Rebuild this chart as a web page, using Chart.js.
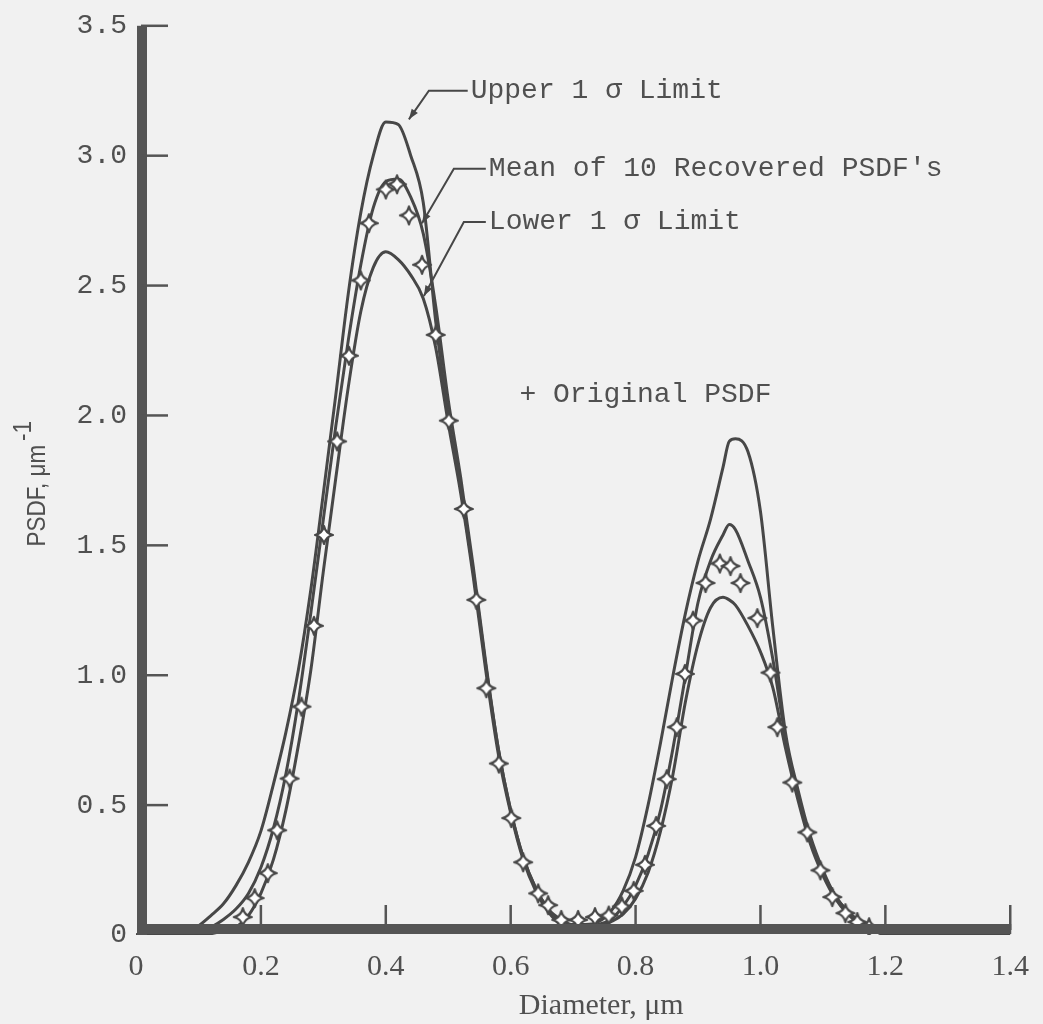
<!DOCTYPE html>
<html lang="en">
<head>
  <meta charset="UTF-8">
  <title>PSDF recovery</title>
  <script src="https://cdn.jsdelivr.net/npm/chart.js"></script>
  <style>
    body {
      margin: 0;
      background-color: #f1f1f1;
    }
    #wrap {
      width: 1043px;
      height: 1024px;
    }
  </style>
</head>
<body>

<div id="wrap">
  <canvas id="psdfChart"></canvas>
</div>

<script>
  // grid of diameters (um) shared by the three recovered curves
  const diameter = [0, 0.06, 0.08, 0.10, 0.12, 0.14, 0.16, 0.18, 0.20, 0.22, 0.24, 0.26, 0.28, 0.30,
    0.32, 0.34, 0.36, 0.38, 0.40, 0.42, 0.44, 0.46, 0.48, 0.50, 0.52, 0.54, 0.56, 0.58, 0.60,
    0.62, 0.64, 0.66, 0.68, 0.70, 0.72, 0.74, 0.76, 0.78, 0.80, 0.82, 0.84, 0.86, 0.88, 0.90,
    0.92, 0.94, 0.95, 0.96, 0.98, 1.00, 1.02, 1.04, 1.06, 1.08, 1.10, 1.12, 1.14, 1.16, 1.18,
    1.20, 1.22, 1.40];

  const upperLimit = [0, 0, 0.01, 0.035, 0.075, 0.12, 0.19, 0.28, 0.40, 0.58, 0.78, 1.02, 1.33, 1.70,
    2.08, 2.47, 2.78, 3.00, 3.13, 3.12, 3.00, 2.82, 2.36, 2.00, 1.72, 1.40, 1.04, 0.72, 0.48,
    0.30, 0.18, 0.10, 0.06, 0.04, 0.04, 0.05, 0.09, 0.17, 0.30, 0.50, 0.74, 1.00, 1.24, 1.44,
    1.60, 1.80, 1.90, 1.91, 1.86, 1.63, 1.18, 0.78, 0.56, 0.38, 0.25, 0.15, 0.09, 0.05, 0.025,
    0.01, 0, 0];

  const meanRecovered = [0, 0, 0, 0.01, 0.03, 0.06, 0.10, 0.16, 0.26, 0.41, 0.62, 0.90, 1.24, 1.60,
    1.96, 2.29, 2.58, 2.80, 2.90, 2.91, 2.84, 2.70, 2.42, 2.06, 1.76, 1.42, 1.05, 0.72, 0.48,
    0.30, 0.18, 0.10, 0.05, 0.03, 0.03, 0.04, 0.06, 0.11, 0.19, 0.31, 0.48, 0.72, 1.00, 1.28,
    1.44, 1.54, 1.58, 1.56, 1.44, 1.30, 1.06, 0.76, 0.54, 0.37, 0.24, 0.15, 0.09, 0.05, 0.02,
    0.01, 0, 0];

  const lowerLimit = [0, 0, 0, 0, 0.005, 0.015, 0.03, 0.075, 0.16, 0.29, 0.48, 0.73, 1.02, 1.40,
    1.76, 2.11, 2.40, 2.57, 2.63, 2.60, 2.54, 2.45, 2.26, 1.97, 1.70, 1.38, 1.02, 0.70, 0.47,
    0.29, 0.17, 0.09, 0.04, 0.02, 0.02, 0.03, 0.05, 0.08, 0.14, 0.24, 0.40, 0.62, 0.90, 1.12,
    1.26, 1.30, 1.29, 1.27, 1.19, 1.09, 0.95, 0.72, 0.52, 0.35, 0.23, 0.14, 0.08, 0.04, 0.02,
    0, 0, 0];

  // original PSDF (star markers)
  const origDiameter = [0.171, 0.190, 0.211, 0.226, 0.246, 0.265, 0.285, 0.301, 0.322, 0.341, 0.360,
    0.373, 0.400, 0.418, 0.437, 0.458, 0.480, 0.501, 0.525, 0.545, 0.561, 0.581, 0.601, 0.620,
    0.644, 0.660, 0.681, 0.708, 0.735, 0.757, 0.778, 0.797, 0.815, 0.833, 0.850, 0.866, 0.879,
    0.892, 0.912, 0.935, 0.952, 0.968, 0.995, 1.016, 1.027, 1.051, 1.075, 1.096, 1.115, 1.136,
    1.155, 1.174];
  const origPsdf = [0.069, 0.142, 0.238, 0.403, 0.602, 0.879, 1.19, 1.54, 1.90, 2.23, 2.52,
    2.74, 2.87, 2.89, 2.77, 2.58, 2.31, 1.98, 1.64, 1.29, 0.95, 0.66, 0.45, 0.28,
    0.16, 0.115, 0.058, 0.058, 0.069, 0.075, 0.11, 0.17, 0.27, 0.42, 0.60, 0.80, 1.005,
    1.21, 1.355, 1.43, 1.42, 1.355, 1.22, 1.01, 0.80, 0.587, 0.395, 0.249, 0.146, 0.084,
    0.05, 0.03];

  const xTickStep = 0.2;
  const yTickStep = 0.5;

  const ink = '#474747';
  const textInk = '#505050';

  function toPoints(xs, ys) {
    return xs.map((x, i) => ({ x: x, y: ys[i] }));
  }

  function fmt(v) {
    return v === 0 ? '0' : v.toFixed(1);
  }

  // four-pointed open star with concave sides, for the original PSDF points
  function makeStar() {
    const c = document.createElement('canvas');
    c.width = 24;
    c.height = 24;
    const g = c.getContext('2d');
    const R = 9, k = 2.2;
    g.beginPath();
    g.moveTo(12, 12 - R);
    for (let i = 0; i < 4; i++) {
      const a1 = -Math.PI / 2 + i * Math.PI / 2;
      const a2 = a1 + Math.PI / 2;
      const am = a1 + Math.PI / 4;
      g.quadraticCurveTo(12 + k * Math.cos(am), 12 + k * Math.sin(am),
        12 + R * Math.cos(a2), 12 + R * Math.sin(a2));
    }
    g.closePath();
    g.fillStyle = '#ffffff';
    g.fill();
    g.lineWidth = 2.2;
    g.lineJoin = 'round';
    g.strokeStyle = ink;
    g.stroke();
    return c;
  }

  const notes = [
    { text: 'Upper 1 \u03c3 Limit', tx: 0.536, ty: 3.25, bend: 0.469, tipX: 0.437, tipY: 3.14 },
    { text: 'Mean of 10 Recovered PSDF\'s', tx: 0.565, ty: 2.95, bend: 0.509, tipX: 0.458, tipY: 2.74 },
    { text: 'Lower 1 \u03c3 Limit', tx: 0.565, ty: 2.745, bend: 0.525, tipX: 0.461, tipY: 2.46 },
    { text: '+ Original PSDF', tx: 0.614, ty: 2.08 }
  ];

  const decor = {
    id: 'decor',
    afterDatasetsDraw(chart) {
      const ctx = chart.ctx;
      const xs = chart.scales.x;
      const ys = chart.scales.y;
      const area = chart.chartArea;
      ctx.save();

      // thick axes
      ctx.fillStyle = '#555555';
      ctx.fillRect(area.left + 1, area.top, 10, area.bottom - area.top);
      ctx.fillRect(area.left + 1, area.bottom - 11, area.right - area.left, 10);

      // inward tick marks
      ctx.strokeStyle = '#555555';
      ctx.lineWidth = 2.5;
      ys.ticks.forEach(t => {
        if (t.value === 0) return;
        const y = ys.getPixelForValue(t.value);
        ctx.beginPath();
        ctx.moveTo(area.left + 5, y);
        ctx.lineTo(area.left + 32, y);
        ctx.stroke();
      });
      xs.ticks.forEach(t => {
        if (t.value === 0) return;
        const x = xs.getPixelForValue(t.value);
        ctx.beginPath();
        ctx.moveTo(x, area.bottom - 5);
        ctx.lineTo(x, area.bottom - 30);
        ctx.stroke();
      });

      // labels with leaders
      ctx.font = '28px "Liberation Mono", monospace';
      ctx.textBaseline = 'middle';
      ctx.textAlign = 'left';
      notes.forEach(n => {
        const tx = xs.getPixelForValue(n.tx);
        const ty = ys.getPixelForValue(n.ty);
        ctx.fillStyle = textInk;
        ctx.fillText(n.text, tx, ty);
        if (n.bend === undefined) return;
        const bx = xs.getPixelForValue(n.bend);
        const px = xs.getPixelForValue(n.tipX);
        const py = ys.getPixelForValue(n.tipY);
        ctx.strokeStyle = ink;
        ctx.lineWidth = 2;
        ctx.beginPath();
        ctx.moveTo(tx - 3, ty);
        ctx.lineTo(bx, ty);
        ctx.lineTo(px, py);
        ctx.stroke();
        // arrow head
        const ang = Math.atan2(py - ty, px - bx);
        ctx.fillStyle = ink;
        ctx.beginPath();
        ctx.moveTo(px, py);
        ctx.lineTo(px - 11 * Math.cos(ang - 0.35), py - 11 * Math.sin(ang - 0.35));
        ctx.lineTo(px - 11 * Math.cos(ang + 0.35), py - 11 * Math.sin(ang + 0.35));
        ctx.closePath();
        ctx.fill();
      });

      // x axis title
      ctx.font = '30px "Liberation Serif", serif';
      ctx.textAlign = 'center';
      ctx.fillStyle = textInk;
      ctx.fillText('Diameter, \u03bcm', xs.getPixelForValue(0.745), 1006);

      // y axis title, narrow face with raised exponent
      const mid = (area.top + area.bottom) / 2;
      ctx.translate(38, mid + 66);
      ctx.rotate(-Math.PI / 2);
      ctx.scale(0.9, 1);
      ctx.textAlign = 'left';
      ctx.font = '25px "Liberation Sans", sans-serif';
      const w = ctx.measureText('PSDF, \u03bcm').width;
      ctx.fillText('PSDF, \u03bcm', 0, 0);
      ctx.fillText('-1', w + 4, -14);

      ctx.restore();
    }
  };

  const curveStyle = {
    showLine: true,
    borderColor: ink,
    borderWidth: 3,
    pointRadius: 0,
    fill: false,
    cubicInterpolationMode: 'monotone'
  };

  const ctx = document.getElementById('psdfChart').getContext('2d');
  const psdfChart = new Chart(ctx, {
    type: 'scatter',
    data: {
      datasets: [
        {
          label: 'Original PSDF',
          data: toPoints(origDiameter, origPsdf),
          pointStyle: makeStar(),
          showLine: false
        },
        Object.assign({ label: 'Upper 1 \u03c3 Limit', data: toPoints(diameter, upperLimit) }, curveStyle),
        Object.assign({ label: 'Mean of 10 Recovered PSDF\'s', data: toPoints(diameter, meanRecovered) }, curveStyle),
        Object.assign({ label: 'Lower 1 \u03c3 Limit', data: toPoints(diameter, lowerLimit) }, curveStyle)
      ]
    },
    options: {
      responsive: true,
      maintainAspectRatio: false,
      animation: false,
      layout: {
        padding: { top: 23, right: 29, left: 0, bottom: 0 }
      },
      plugins: {
        legend: { display: false },
        tooltip: { enabled: false }
      },
      scales: {
        x: {
          type: 'linear',
          min: 0,
          max: 1.4,
          grid: { display: false, drawTicks: false },
          border: { display: false },
          ticks: {
            stepSize: xTickStep,
            autoSkip: false,
            maxRotation: 0,
            padding: 14,
            color: textInk,
            font: { family: '"Liberation Serif", serif', size: 30 },
            callback: v => fmt(v)
          },
          afterFit: scale => { scale.height = 89; }
        },
        y: {
          min: 0,
          max: 3.5,
          grid: { display: false, drawTicks: false },
          border: { display: false },
          ticks: {
            stepSize: yTickStep,
            padding: 9,
            color: textInk,
            font: { family: '"Liberation Mono", monospace', size: 28 },
            callback: v => fmt(v)
          },
          afterFit: scale => { scale.width = 136; }
        }
      }
    },
    plugins: [decor]
  });
</script>
</body>
</html>
